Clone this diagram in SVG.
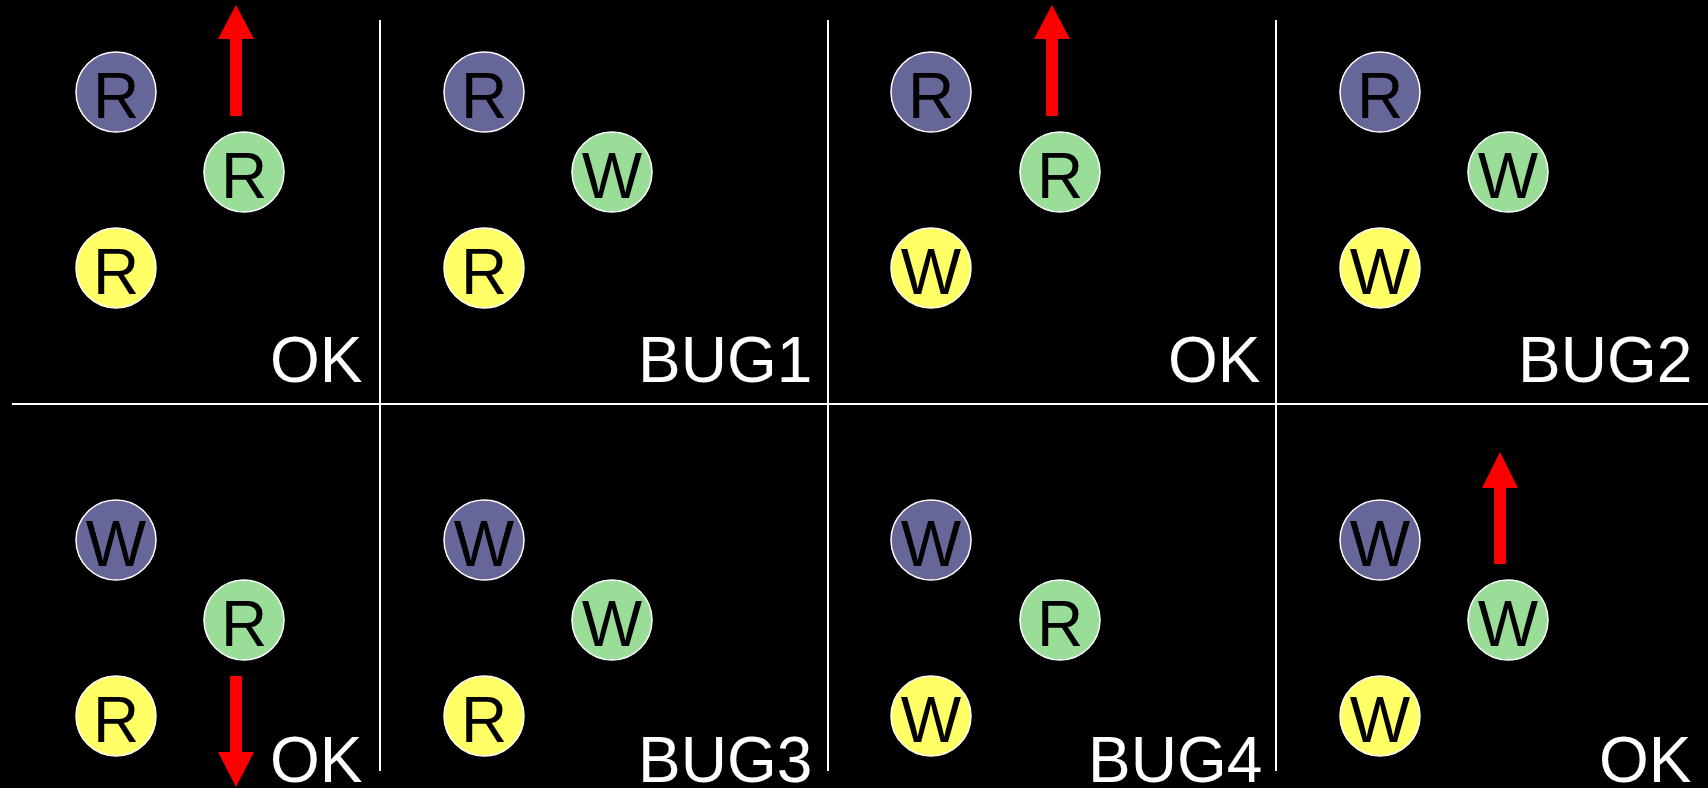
<svg xmlns="http://www.w3.org/2000/svg" width="1708" height="788" viewBox="0 0 1708 788">
  <style>
    .grid { stroke: #ffffff; stroke-width: 2; fill: none; }
    .node { stroke: #ffffff; stroke-width: 1.5; }
    .blue { fill: #666699; }
    .green { fill: #99dd99; }
    .yellow { fill: #ffff66; }
    .op { font-family: "Liberation Sans", Arial, sans-serif; font-size: 64px; fill: #000000; text-anchor: middle; }
    .verdict { font-family: "Liberation Sans", Arial, sans-serif; font-size: 64px; fill: #ffffff; }
    .arrow { fill: #ff0000; }
  </style>
  <rect x="0" y="0" width="1708" height="788" fill="#000000"/>

  <!-- panel grid -->
  <g id="grid">
    <line class="grid" x1="12" y1="404" x2="1708" y2="404"/>
    <line class="grid" x1="380" y1="20" x2="380" y2="771"/>
    <line class="grid" x1="828" y1="20" x2="828" y2="771"/>
    <line class="grid" x1="1276" y1="20" x2="1276" y2="771"/>
  </g>

  <!-- top row -->
  <g id="p1-top">
    <g id="p1-top-a"><circle class="node blue" cx="116" cy="92" r="40"/><text class="op" x="116" y="118">R</text></g>
    <g id="p1-top-b"><circle class="node green" cx="244" cy="172" r="40"/><text class="op" x="244" y="198">R</text></g>
    <g id="p1-top-c"><circle class="node yellow" cx="116" cy="268" r="40"/><text class="op" x="116" y="294">R</text></g>
    <text class="verdict" x="270" y="382">OK</text>
  </g>
  <g id="p2-top">
    <g id="p2-top-a"><circle class="node blue" cx="484" cy="92" r="40"/><text class="op" x="484" y="118">R</text></g>
    <g id="p2-top-b"><circle class="node green" cx="612" cy="172" r="40"/><text class="op" x="612" y="198">W</text></g>
    <g id="p2-top-c"><circle class="node yellow" cx="484" cy="268" r="40"/><text class="op" x="484" y="294">R</text></g>
    <text class="verdict" x="638" y="382">BUG1</text>
  </g>
  <g id="p3-top">
    <g id="p3-top-a"><circle class="node blue" cx="931" cy="92" r="40"/><text class="op" x="931" y="118">R</text></g>
    <g id="p3-top-b"><circle class="node green" cx="1060" cy="172" r="40"/><text class="op" x="1060" y="198">R</text></g>
    <g id="p3-top-c"><circle class="node yellow" cx="931" cy="268" r="40"/><text class="op" x="931" y="294">W</text></g>
    <text class="verdict" x="1168" y="382">OK</text>
  </g>
  <g id="p4-top">
    <g id="p4-top-a"><circle class="node blue" cx="1380" cy="92" r="40"/><text class="op" x="1380" y="118">R</text></g>
    <g id="p4-top-b"><circle class="node green" cx="1508" cy="172" r="40"/><text class="op" x="1508" y="198">W</text></g>
    <g id="p4-top-c"><circle class="node yellow" cx="1380" cy="268" r="40"/><text class="op" x="1380" y="294">W</text></g>
    <text class="verdict" x="1518" y="382">BUG2</text>
  </g>

  <!-- bottom row -->
  <g id="p1-bot">
    <g id="p1-bot-a"><circle class="node blue" cx="116" cy="540" r="40"/><text class="op" x="116" y="566">W</text></g>
    <g id="p1-bot-b"><circle class="node green" cx="244" cy="620" r="40"/><text class="op" x="244" y="646">R</text></g>
    <g id="p1-bot-c"><circle class="node yellow" cx="116" cy="716" r="40"/><text class="op" x="116" y="742">R</text></g>
    <text class="verdict" x="270" y="782">OK</text>
  </g>
  <g id="p2-bot">
    <g id="p2-bot-a"><circle class="node blue" cx="484" cy="540" r="40"/><text class="op" x="484" y="566">W</text></g>
    <g id="p2-bot-b"><circle class="node green" cx="612" cy="620" r="40"/><text class="op" x="612" y="646">W</text></g>
    <g id="p2-bot-c"><circle class="node yellow" cx="484" cy="716" r="40"/><text class="op" x="484" y="742">R</text></g>
    <text class="verdict" x="638" y="782">BUG3</text>
  </g>
  <g id="p3-bot">
    <g id="p3-bot-a"><circle class="node blue" cx="931" cy="540" r="40"/><text class="op" x="931" y="566">W</text></g>
    <g id="p3-bot-b"><circle class="node green" cx="1060" cy="620" r="40"/><text class="op" x="1060" y="646">R</text></g>
    <g id="p3-bot-c"><circle class="node yellow" cx="931" cy="716" r="40"/><text class="op" x="931" y="742">W</text></g>
    <text class="verdict" x="1088" y="782">BUG4</text>
  </g>
  <g id="p4-bot">
    <g id="p4-bot-a"><circle class="node blue" cx="1380" cy="540" r="40"/><text class="op" x="1380" y="566">W</text></g>
    <g id="p4-bot-b"><circle class="node green" cx="1508" cy="620" r="40"/><text class="op" x="1508" y="646">W</text></g>
    <g id="p4-bot-c"><circle class="node yellow" cx="1380" cy="716" r="40"/><text class="op" x="1380" y="742">W</text></g>
    <text class="verdict" x="1599" y="782">OK</text>
  </g>

  <!-- direction arrows -->
  <g id="arrows">
    <polygon class="arrow" points="230,116 230,39 218,39 236,5 254,39 242,39 242,116"/>
    <polygon class="arrow" points="1046,116 1046,39 1034,39 1052,5 1070,39 1058,39 1058,116"/>
    <polygon class="arrow" points="230,676 242,676 242,752 254,752 236,787 218,752 230,752"/>
    <polygon class="arrow" points="1494,564 1494,488 1482,488 1500,452 1518,488 1506,488 1506,564"/>
  </g>
</svg>
